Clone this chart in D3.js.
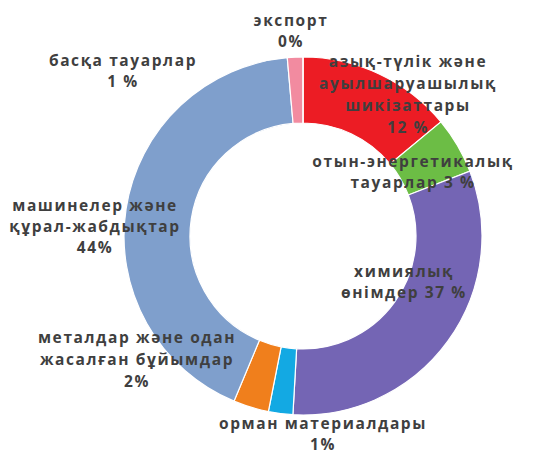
<!DOCTYPE html>
<html><head><meta charset="utf-8">
<script src="https://cdn.jsdelivr.net/npm/d3@7"></script>
<style>html,body{margin:0;padding:0;background:#fff;}svg{display:block;}</style>
</head><body>
<svg id="c" width="533" height="456"></svg>
<script>
// Data (clockwise from 12 o'clock)
const categories = [
  "азық-түлік және ауылшаруашылық шикізаттары",
  "отын-энергетикалық тауарлар",
  "химиялық өнімдер",
  "орман материалдары",
  "металдар және одан жасалған бұйымдар",
  "машинелер және құрал-жабдықтар",
  "басқа тауарлар",
  "экспорт"
];
// shares as drawn in the picture (percent of the ring)
const values = [14.0, 5.1, 31.8, 2.2, 3.2, 42.3, 1.4, 0];
// percentage labels as printed
const percentLabels = ["12 %", "3 %", "37 %", "1%", "2%", "44%", "1 %", "0%"];
const colors = ["#ec1c24", "#6cbd45", "#7465b4", "#13a9e3", "#f07f1c", "#7f9fcc", "#f28ba0", "#999999"];

// label layout (text lines and anchor, separate from data)
const labelLayout = [
  {lines: ["азық-түлік және", "ауылшаруашылық", "шикізаттары", "12 %"], x: 408, y: 67, lh: 22},
  {lines: ["отын-энергетикалық", "тауарлар 3 %"], x: 413, y: 167, lh: 21},
  {lines: ["химиялық", "өнімдер 37 %"], x: 404, y: 277, lh: 21},
  {lines: ["орман материалдары", "1%"], x: 323, y: 429, lh: 21},
  {lines: ["металдар және одан", "жасалған бұйымдар", "2%"], x: 137, y: 343, lh: 22},
  {lines: ["машинелер және", "құрал-жабдықтар", "44%"], x: 95, y: 211, lh: 21},
  {lines: ["басқа тауарлар", "1 %"], x: 123, y: 66, lh: 21},
  {lines: ["экспорт", "0%"], x: 291, y: 26, lh: 21}
];

const svg = d3.select("#c");
const cx = 303, cy = 236, rOuter = 179, rInner = 113;
const g = svg.append("g").attr("transform", `translate(${cx},${cy})`);

const pie = d3.pie().sort(null).value(d => d).startAngle(0).endAngle(2 * Math.PI);
const arc = d3.arc().innerRadius(rInner).outerRadius(rOuter);

g.selectAll("path.slice")
  .data(pie(values))
  .enter().append("path")
  .attr("class", "slice")
  .attr("d", arc)
  .attr("fill", (d, i) => colors[i])
  .attr("stroke", "#fff")
  .attr("stroke-width", 1.2);

const lab = svg.append("g")
  .attr("font-family", "'Open Sans', sans-serif")
  .attr("font-weight", 700)
  .attr("font-size", 15.5)
  .attr("letter-spacing", 1.6)
  .attr("fill", "#3f3f3f")
  .attr("text-anchor", "middle");

labelLayout.forEach(L => {
  const t = lab.append("text").attr("x", L.x).attr("y", L.y);
  L.lines.forEach((ln, j) => {
    t.append("tspan").attr("x", L.x).attr("dy", j === 0 ? 0 : L.lh).text(ln);
  });
});
</script>
</body></html>
